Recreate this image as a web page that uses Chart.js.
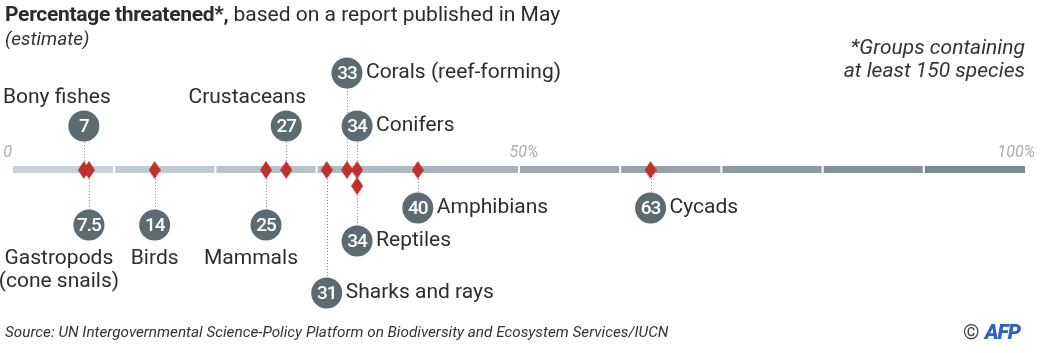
<!DOCTYPE html>
<html><head><meta charset="utf-8">
<script src="https://cdn.jsdelivr.net/npm/chart.js@4"></script>
<style>
html,body{margin:0;padding:0;background:#fff;width:1041px;height:353px;overflow:hidden;font-family:Roboto,sans-serif;color:#2b2b2b}
#wrap{position:relative;width:1041px;height:353px}
#c{position:absolute;left:0;top:0}
.t{position:absolute;white-space:nowrap;line-height:1}
#title{left:5px;top:4px;font-size:21px}
#title b{letter-spacing:-0.3px}
#sub{left:5px;top:29px;font-size:19px;font-style:italic;color:#333}
#note{right:16px;top:36px;font-size:21px;font-style:italic;text-align:right;line-height:23px;color:#333}
#src{left:5px;top:325px;font-size:15.3px;font-style:italic;color:#333}
#afp{left:963px;top:322px;font-size:21px;color:#444}
#afp b{color:#2a63c4;font-style:italic;font-weight:900;letter-spacing:-1px}
</style></head><body>
<div id="wrap">
<canvas id="c" width="1041" height="353"></canvas>
<div class="t" id="title"><b>Percentage threatened*,</b> based on a report published in May</div>
<div class="t" id="sub">(estimate)</div>
<div class="t" id="note">*Groups containing<br>at least 150 species</div>
<div class="t" id="src">Source: UN Intergovernmental Science-Policy Platform on Biodiversity and Ecosystem Services/IUCN</div>
<div class="t" id="afp">© <b>AFP</b></div>
</div>
<script>
// ---- data ----
const groups = ['Bony fishes', 'Gastropods\n(cone snails)', 'Birds', 'Mammals', 'Crustaceans', 'Sharks and rays', 'Corals (reef-forming)', 'Conifers', 'Reptiles', 'Amphibians', 'Cycads'];
const percentThreatened = [7, 7.5, 14, 25, 27, 31, 33, 34, 34, 40, 63];
const valueLabels = ['7', '7.5', '14', '25', '27', '31', '33', '34', '34', '40', '63'];
const tickValues = [0, 50, 100];
const tickLabels = ['0', '50%', '100%'];

// ---- layout (label placement, px offsets from the axis line) ----
const bubbleOffset = [-44, 55, 55, 55, -44, 123, -97, -44, 71, 38, 38];
const markerOffset = [0, 0, 0, 0, 0, 0, 0, 0, 16, 0, 0];
const labelPlace = ['above', 'below', 'below', 'below', 'above', 'right', 'right', 'right', 'right', 'right', 'right'];
const labelShift = [-27, -30, 0, -15, -39, 0, 0, 0, 0, 0, 0];

// diamond marker image
const dia = document.createElement('canvas');
dia.width = 12; dia.height = 18;
(function(){const g = dia.getContext('2d'); g.fillStyle = '#c0312b'; g.beginPath(); g.moveTo(6,0); g.lineTo(12,9); g.lineTo(6,18); g.lineTo(0,9); g.closePath(); g.fill();})();

const lerp = (a, b, t) => Math.round(a + (b - a) * t);
const c0 = [200, 211, 217], c1 = [126, 138, 145];

const deco = {
  id: 'deco',
  beforeDatasetsDraw(chart) {
    const ctx = chart.ctx, xs = chart.scales.x, ys = chart.scales.y;
    const y0 = ys.getPixelForValue(0);
    ctx.save();
    for (let k = 0; k < 10; k++) {
      const t = k / 9;
      ctx.fillStyle = `rgb(${lerp(c0[0], c1[0], t)},${lerp(c0[1], c1[1], t)},${lerp(c0[2], c1[2], t)})`;
      const a = xs.getPixelForValue(k * 10) + (k > 0 ? 1 : 0);
      const b = xs.getPixelForValue((k + 1) * 10) - (k < 9 ? 1 : 0);
      ctx.fillRect(a, y0 - 4, b - a, 7);
    }
    ctx.font = 'italic 16px Roboto';
    ctx.fillStyle = '#adadad';
    ctx.textBaseline = 'middle';
    tickValues.forEach((v, i) => {
      const x = xs.getPixelForValue(v);
      if (i === 0) { ctx.textAlign = 'right'; ctx.fillText(tickLabels[i], x - 1, y0 - 17); }
      else if (i === tickValues.length - 1) { ctx.textAlign = 'right'; ctx.fillText(tickLabels[i], x + 10, y0 - 17); }
      else { ctx.textAlign = 'center'; ctx.fillText(tickLabels[i], x + 5, y0 - 17); }
    });
    ctx.strokeStyle = '#8c8c8c';
    ctx.lineWidth = 1;
    ctx.setLineDash([1, 2]);
    percentThreatened.forEach((v, i) => {
      const x = Math.round(xs.getPixelForValue(v)) + 0.5;
      ctx.beginPath();
      ctx.moveTo(x, ys.getPixelForValue(markerOffset[i]));
      ctx.lineTo(x, ys.getPixelForValue(bubbleOffset[i]));
      ctx.stroke();
    });
    ctx.restore();
  },
  afterDatasetsDraw(chart) {
    const ctx = chart.ctx, xs = chart.scales.x, ys = chart.scales.y;
    ctx.save();
    ctx.textBaseline = 'middle';
    percentThreatened.forEach((v, i) => {
      const x = xs.getPixelForValue(v), y = ys.getPixelForValue(bubbleOffset[i]);
      ctx.fillStyle = '#ffffff';
      ctx.font = '500 19px Roboto';
      ctx.letterSpacing = '-1px';
      ctx.textAlign = 'center';
      ctx.fillText(valueLabels[i], x, y + 1);
      ctx.letterSpacing = '0px';
      ctx.fillStyle = '#2d2d2d';
      ctx.font = '21px Roboto';
      const lines = groups[i].split('\n');
      if (labelPlace[i] === 'right') {
        ctx.textAlign = 'left';
        ctx.fillText(lines[0], x + 19, y);
      } else if (labelPlace[i] === 'above') {
        ctx.textAlign = 'center';
        ctx.fillText(lines[0], x + labelShift[i], y - 28);
      } else {
        ctx.textAlign = 'center';
        lines.forEach((ln, j) => ctx.fillText(ln, x + labelShift[i], y + 34 + j * 23));
      }
    });
    ctx.restore();
  }
};

new Chart(document.getElementById('c'), {
  type: 'scatter',
  data: {
    datasets: [
      {
        label: 'Threatened share',
        data: percentThreatened.map((v, i) => ({ x: v, y: markerOffset[i] })),
        pointStyle: dia, pointRadius: 6, pointHoverRadius: 6
      },
      {
        label: 'Value badges',
        data: percentThreatened.map((v, i) => ({ x: v, y: bubbleOffset[i] })),
        pointStyle: 'circle', pointRadius: 15.5, pointHoverRadius: 15.5,
        backgroundColor: '#5c6b72', borderWidth: 0
      }
    ]
  },
  plugins: [deco],
  options: {
    responsive: false, animation: false, events: [],
    layout: { autoPadding: false, padding: { left: 13, right: 16, top: 0, bottom: 0 } },
    plugins: { legend: { display: false }, tooltip: { enabled: false }, title: { display: false } },
    scales: {
      x: { type: 'linear', min: 0, max: 100, display: false },
      y: { type: 'linear', min: -170, max: 183, reverse: true, display: false }
    }
  }
});
</script>
</body></html>
